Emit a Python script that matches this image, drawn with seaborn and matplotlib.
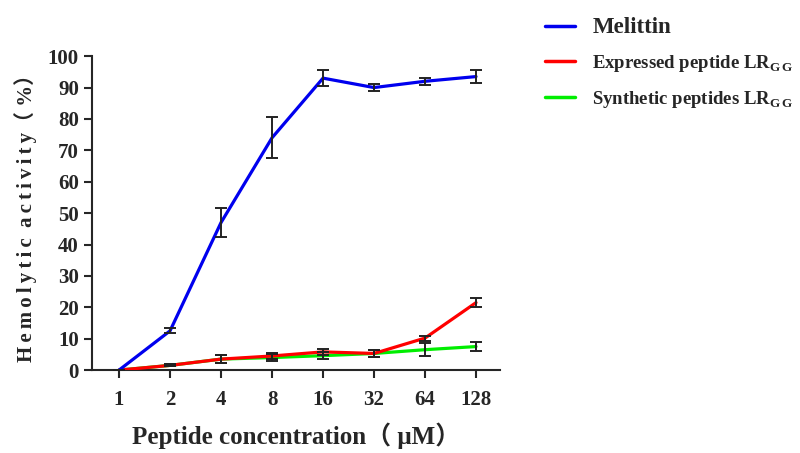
import seaborn as sns
import matplotlib.pyplot as plt
import numpy as np
import pandas as pd

# Data
conc = ["1", "2", "4", "8", "16", "32", "64", "128"]
melittin = [0, 12.5, 47, 74, 93, 90, 92, 93.5]
melittin_err = [0, 0.8, 4.5, 6.5, 2.5, 1.0, 1.2, 2.0]
expressed = [0, 1.5, 3.5, 4.5, 5.8, 5.3, 10.2, 21.5]
expressed_err = [0, 0.3, 1.2, 1.0, 1.0, 1.0, 0.8, 1.5]
synthetic = [0, 1.5, 3.5, 4.0, 4.6, 5.3, 6.5, 7.5]
synthetic_err = [0, 0.3, 1.2, 1.0, 1.2, 1.0, 2.0, 1.5]

names = ["Melittin",
         r"Expressed peptide LR$_{\mathbf{G\,G}}$",
         r"Synthetic peptides LR$_{\mathbf{G\,G}}$"]
colors = ["#0000ee", "#ff0000", "#00ee00"]

pos = np.arange(len(conc))
df = pd.DataFrame({
    "pos": np.tile(pos, 3),
    "val": melittin + expressed + synthetic,
    "series": np.repeat(names, len(conc)),
})

sns.set_style("ticks")
plt.rcParams['font.family'] = ['Liberation Serif', 'DejaVu Serif']
plt.rcParams['font.weight'] = 'bold'
plt.rcParams['mathtext.fontset'] = 'custom'
plt.rcParams['mathtext.rm'] = 'Liberation Serif:bold'
plt.rcParams['mathtext.bf'] = 'Liberation Serif:bold'

fig = plt.figure(figsize=(8, 4.53), dpi=100)
ax = fig.add_axes([0.115, 0.183, 0.51, 0.693])

# draw green first so red sits on top, blue last
order = [2, 1, 0]
for i in order:
    sub = df[df["series"] == names[i]]
    sns.lineplot(data=sub, x="pos", y="val", color=colors[i], lw=2.3,
                 ax=ax, label=names[i], zorder=2 + (2 - i))

errs = [melittin_err, expressed_err, synthetic_err]
vals = [melittin, expressed, synthetic]
for v, e in zip(vals, errs):
    ax.errorbar(pos, v, yerr=e, fmt="none", ecolor="#222222",
                elinewidth=1.4, capsize=4, capthick=1.4, zorder=6)

ax.set_xlim(-0.53, 7.47)
ax.set_ylim(0, 100)
ax.set_yticks(np.arange(0, 101, 10))
ax.set_xticks(pos)
ax.set_xticklabels(conc)
ax.tick_params(axis="both", labelsize=15, width=1.5, length=6, direction="out")
ax.tick_params(axis="x", pad=8)
for lab in ax.get_xticklabels() + ax.get_yticklabels():
    lab.set_fontweight("bold")
sns.despine(ax=ax)
ax.spines["left"].set_linewidth(1.5)
ax.spines["bottom"].set_linewidth(1.5)

thin = "\u2009"
ylab = thin.join("Hemolytic") + "  " + thin.join("activity") + "\uff08 %\uff09"
ax.set_xlabel("Peptide concentration\uff08 \u03bcM\uff09", fontsize=18,
              fontweight="bold", labelpad=9,
              family=['Liberation Serif', 'DejaVu Serif', 'Noto Sans CJK SC'])
ax.set_ylabel(ylab, fontsize=15, fontweight="bold", labelpad=8,
              family=['Liberation Serif', 'DejaVu Serif', 'Noto Sans CJK SC'])

handles, labels = ax.get_legend_handles_labels()
handles = handles[::-1]
labels = labels[::-1]
leg = ax.legend(handles, labels, loc="upper left",
                bbox_to_anchor=(1.07, 1.18), frameon=False,
                handlelength=1.6, handletextpad=0.9, labelspacing=0.8,
                prop={"size": 13.5, "weight": "bold"})
leg.get_texts()[0].set_fontsize(16.5)
for line in leg.get_lines():
    line.set_linewidth(2.5)

fig.savefig("out.png", dpi=100)
